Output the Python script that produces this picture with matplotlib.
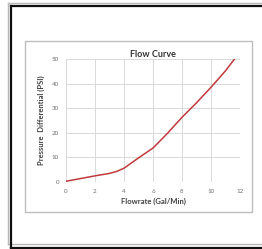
import matplotlib
matplotlib.use("Agg")
import matplotlib.pyplot as plt
from matplotlib.patches import Rectangle
from matplotlib.lines import Line2D

plt.rcParams['font.family'] = ['Lato', 'DejaVu Sans']

# data
flowrate = [0, 1, 2, 3, 3.5, 4, 4.5, 5, 5.5, 6, 7, 8, 9, 10, 11, 11.6]
pressure = [0.3, 1.4, 2.5, 3.5, 4.3, 5.6, 7.7, 9.8, 11.8, 13.8, 19.8, 26.3, 32.2, 38.5, 45.2, 49.8]
x_ticks = [0, 2, 4, 6, 8, 10, 12]
y_ticks = [0, 10, 20, 30, 40, 50]

W, H = 262, 249
fig = plt.figure(figsize=(W / 100, H / 100), dpi=100)
fig.patch.set_facecolor('white')

def px_line(x0, y0, x1, y1, color, lw):
    fig.add_artist(Line2D([x0 / W, x1 / W], [1 - y0 / H, 1 - y1 / H],
                          transform=fig.transFigure, color=color, lw=lw))

# outer frame: gray + black double lines (right side off image)
px_line(7.5, 3.5, 262, 3.5, '#b8b8b8', 1.0)
px_line(7.5, 3.5, 7.5, 244, '#b8b8b8', 1.0)
px_line(7.5, 244, 262, 244, '#b8b8b8', 1.0)
px_line(10.5, 6, 262, 6, '#111111', 1.6)
px_line(10.5, 6, 10.5, 247.5, '#111111', 1.6)
px_line(10.5, 247.5, 262, 247.5, '#111111', 1.6)

# chart area box
fig.add_artist(Rectangle((25 / W, 1 - 212 / H), (252 - 25) / W, (212 - 41) / H,
                         transform=fig.transFigure, fill=False,
                         edgecolor='#bdbdbd', lw=1.0))

ax = fig.add_axes([66 / W, 1 - 182 / H, (240 - 66) / W, (182 - 59) / H])
ax.plot(flowrate, pressure, color='#c0393b', lw=1.1)
ax.set_xlim(0, 12)
ax.set_ylim(0, 50)
ax.set_xticks(x_ticks)
ax.set_yticks(y_ticks)
ax.grid(True, color='#d9d9d9', lw=0.7)
ax.set_axisbelow(True)
for s in ax.spines.values():
    s.set_visible(False)
ax.tick_params(length=0, labelsize=4.5, labelcolor='#707070', pad=5)

ax.set_title('Flow Curve', fontsize=6.5, color='#333333', fontweight='bold', pad=1)
ax.set_xlabel('Flowrate (Gal/Min)', fontsize=5.5, color='#404040', fontweight='bold', labelpad=3)
ax.set_ylabel('Pressure  Differential (PSI)', fontsize=5.5, color='#404040', fontweight='bold', labelpad=5)

fig.savefig('out.png', dpi=100)
